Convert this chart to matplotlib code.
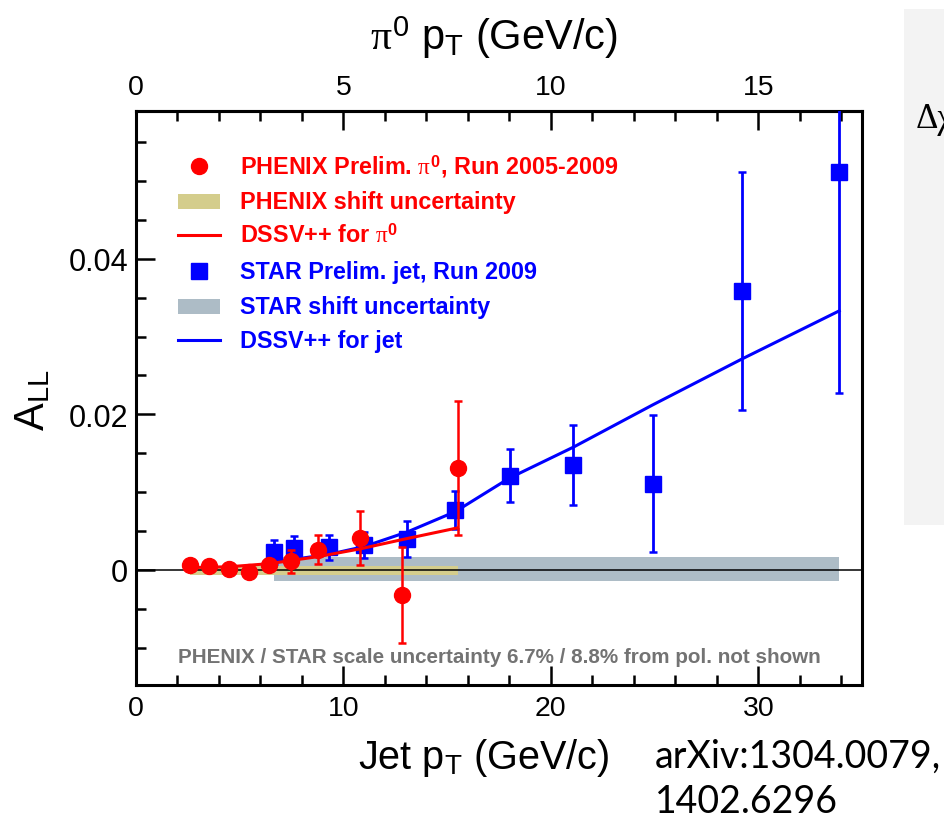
import matplotlib
matplotlib.use('Agg')
import matplotlib.pyplot as plt
from matplotlib.patches import Rectangle
from matplotlib.ticker import FixedLocator, FixedFormatter, MultipleLocator

plt.rcParams['font.family'] = ['Liberation Sans', 'DejaVu Sans']
plt.rcParams['mathtext.fontset'] = 'custom'
plt.rcParams['mathtext.rm'] = 'Liberation Sans'
plt.rcParams['mathtext.it'] = 'Liberation Serif'
plt.rcParams['mathtext.bf'] = 'Liberation Sans:bold'

# ---------------- data ----------------
# PHENIX pi0 (x in pi0 pT, GeV/c)
phenix_pt = [1.30, 1.76, 2.24, 2.73, 3.21, 3.73, 4.38, 5.40, 6.42, 7.75]
phenix_all = [0.00064, 0.00055, 0.0001, -0.0003, 0.00064, 0.0011, 0.0026, 0.0041, -0.0032, 0.0131]
phenix_err = [0.0003, 0.0003, 0.0003, 0.0003, 0.0008, 0.0015, 0.0019, 0.0035, 0.0062, 0.0086]
# STAR jets (x in jet pT, GeV/c)
star_pt = [6.65, 7.62, 9.32, 11.0, 13.08, 15.38, 18.03, 21.07, 24.93, 29.22, 33.9]
star_all = [0.0023, 0.0028, 0.0029, 0.0032, 0.0040, 0.0077, 0.0121, 0.0135, 0.0111, 0.0359, 0.0512]
star_err = [0.0015, 0.0016, 0.0016, 0.0017, 0.0023, 0.0025, 0.0034, 0.0051, 0.0088, 0.0153, 0.0284]
# DSSV++ curves
dssv_pi0_pt = [1.30, 2.24, 3.21, 4.38, 5.40, 6.42, 7.75]
dssv_pi0_all = [0.0003, 0.0004, 0.0008, 0.0017, 0.0027, 0.0039, 0.0054]
dssv_jet_pt = [6.65, 9.3, 11.0, 13.1, 15.4, 18.0, 21.1, 24.9, 29.2, 33.9]
dssv_jet_all = [0.0010, 0.0020, 0.0030, 0.0049, 0.0075, 0.0118, 0.0158, 0.0212, 0.0271, 0.0333]
# shift uncertainty bands (low, high)
phenix_band = [-0.0006, 0.0005]
star_band = [-0.0014, 0.0016]

y_ticks = [0.0, 0.02, 0.04]
y_ticklabels = ['0', '0.02', '0.04']
x_ticks = [0, 10, 20, 30]
top_ticks = [0, 5, 10, 15]

legend_labels = [r'PHENIX Prelim. $\pi^{\mathbf{0}}$, Run 2005-2009',
                 'PHENIX shift uncertainty',
                 r'DSSV++ for $\pi^{\mathbf{0}}$',
                 'STAR Prelim. jet, Run 2009',
                 'STAR shift uncertainty',
                 'DSSV++ for jet']

RED = '#ff0000'
BLUE = '#0000ff'
YEL = '#d4cd8c'
GREY = '#adbcc6'


def pi0_to_jet(p):
    return [2.0 * v for v in p]


W, H = 945, 820
fig = plt.figure(figsize=(W / 100, H / 100), dpi=100)

# right side grey panel (slide background)
fig.patches.append(Rectangle((904 / W, 1 - 526 / H), 41 / W, 516 / H,
                             transform=fig.transFigure, facecolor='#f3f3f3',
                             edgecolor='none', zorder=0))
fig.text(916 / W, 1 - 128 / H, 'Δχ', family='Liberation Serif', fontsize=25,
         va='baseline', ha='left')

ax = fig.add_axes([136 / W, 1 - 686 / H, 726 / W, 574 / H])
ax.set_xlim(0, 35)
ax.set_ylim(-0.0148, 0.059)

# bands
px = pi0_to_jet(phenix_pt)
ax.fill_between([star_pt[0], star_pt[-1]], star_band[0], star_band[1],
                color=GREY, lw=0, zorder=1)
ax.fill_between([px[0], px[-1]], phenix_band[0], phenix_band[1],
                color=YEL, lw=0, zorder=2)
ax.axhline(0, color='black', lw=1.1, zorder=3)

# theory
ax.plot(dssv_jet_pt, dssv_jet_all, color=BLUE, lw=2.2, zorder=4)
ax.plot(pi0_to_jet(dssv_pi0_pt), dssv_pi0_all, color=RED, lw=2.2, zorder=6)

# data
ax.errorbar(star_pt, star_all, yerr=star_err, fmt='s', color=BLUE, ms=11,
            elinewidth=2.0, capsize=2.6, capthick=1.8, zorder=5)
ax.errorbar(px, phenix_all, yerr=phenix_err, fmt='o', color=RED, ms=11.5,
            elinewidth=1.8, capsize=2.6, capthick=1.8, zorder=7)

# axes styling
for s in ax.spines.values():
    s.set_linewidth(2.2)
ax.xaxis.set_major_locator(FixedLocator(x_ticks))
ax.xaxis.set_minor_locator(MultipleLocator(2))
ax.yaxis.set_major_locator(FixedLocator(y_ticks))
ax.yaxis.set_major_formatter(FixedFormatter(y_ticklabels))
ax.yaxis.set_minor_locator(MultipleLocator(0.005))
ax.tick_params(axis='both', which='both', direction='in', right=False, top=False)
ax.tick_params(axis='both', which='major', length=14, width=1.8)
ax.tick_params(axis='both', which='minor', length=7, width=1.8)
ax.tick_params(axis='y', which='major', labelsize=22, pad=5.5)
ax.tick_params(axis='x', which='major', labelsize=20.5, pad=7.5)

sec = ax.secondary_xaxis('top', functions=(lambda x: x / 2.0, lambda x: x * 2.0))
sec.xaxis.set_major_locator(FixedLocator(top_ticks))
sec.xaxis.set_minor_locator(MultipleLocator(1))
sec.tick_params(which='both', direction='in', width=1.8)
sec.tick_params(which='major', length=14, labelsize=20.5, pad=8)
sec.tick_params(which='minor', length=7)
sec.spines['top'].set_linewidth(2.2)

# axis titles
fig.text(484 / W, 1 - 737 / H, r'Jet p$_{\mathrm{T}}$ (GeV/c)', fontsize=28.5,
         ha='center', va='top')
fig.text(494 / W, 1 - 14 / H, r'$\pi^{0}$ p$_{\mathrm{T}}$ (GeV/c)', fontsize=30,
         ha='center', va='top')
fig.text(13 / W, 1 - 400 / H, r'A$_{\mathrm{LL}}$', fontsize=30, rotation=90,
         ha='left', va='center')

# legend (drawn in axes fraction)
def fx(p):
    return (p - 136) / 726.0


def fy(p):
    return (686 - p) / 574.0


rows = [167, 202, 236, 272, 307, 341]
colors = [RED, RED, RED, BLUE, BLUE, BLUE]
tr = ax.transAxes
ax.plot([fx(199)], [fy(rows[0])], 'o', color=RED, ms=11.5, transform=tr, clip_on=False, zorder=8)
ax.add_patch(Rectangle((fx(178), fy(rows[1] + 7.5)), fx(220) - fx(178), 15 / 574.0,
                       transform=tr, facecolor=YEL, edgecolor='none', zorder=8))
ax.plot([fx(178), fx(220)], [fy(rows[2])] * 2, color=RED, lw=2.2, transform=tr, zorder=8)
ax.plot([fx(199)], [fy(rows[3])], 's', color=BLUE, ms=11, transform=tr, clip_on=False, zorder=8)
ax.add_patch(Rectangle((fx(178), fy(rows[4] + 7.5)), fx(220) - fx(178), 15 / 574.0,
                       transform=tr, facecolor=GREY, edgecolor='none', zorder=8))
ax.plot([fx(178), fx(220)], [fy(rows[5])] * 2, color=BLUE, lw=2.2, transform=tr, zorder=8)
for r, lab, c in zip(rows, legend_labels, colors):
    ax.text(fx(240), fy(r + 7), lab, color=c, fontsize=16.8, fontweight='bold',
            transform=tr, ha='left', va='baseline', zorder=9)

ax.text(fx(178), fy(663), 'PHENIX / STAR scale uncertainty 6.7% / 8.8% from pol. not shown',
        color='#737373', fontsize=14.9, fontweight='bold', transform=tr,
        ha='left', va='baseline', zorder=9)

# citation
fig.text(655 / W, 1 - 768 / H, 'arXiv:1304.0079,', family='Lato', fontsize=27,
         ha='left', va='baseline')
fig.text(655 / W, 1 - 813 / H, '1402.6296', family='Lato', fontsize=27,
         ha='left', va='baseline')

fig.savefig('out.png', dpi=100)
